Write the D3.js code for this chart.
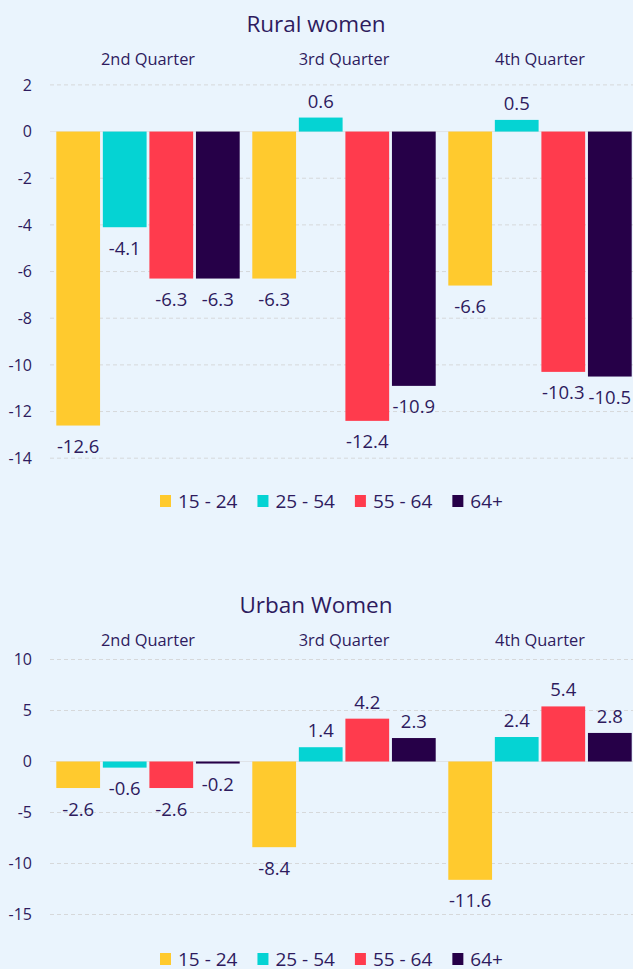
<!DOCTYPE html>
<html><head><meta charset="utf-8">
<script src="https://cdn.jsdelivr.net/npm/d3@7"></script>
<style>
html,body{margin:0;padding:0;background:#EAF4FD;}
svg{display:block;font-family:"Open Sans","Noto Sans",sans-serif;}
</style></head>
<body><svg id="c" width="633" height="969"></svg>
<script>
const quarters = ["2nd Quarter", "3rd Quarter", "4th Quarter"];
const ageGroups = ["15 - 24", "25 - 54", "55 - 64", "64+"];
const colors = ["#FFCA2E", "#05D3D3", "#FF3B4D", "#260048"];
// values per quarter, in ageGroups order
const ruralValues = [
  [-12.6, -4.1, -6.3, -6.3],
  [-6.3, 0.6, -12.4, -10.9],
  [-6.6, 0.5, -10.3, -10.5]
];
const urbanValues = [
  [-2.6, -0.6, -2.6, -0.2],
  [-8.4, 1.4, 4.2, 2.3],
  [-11.6, 2.4, 5.4, 2.8]
];
const ruralTicks = [2, 0, -2, -4, -6, -8, -10, -12, -14];
const urbanTicks = [10, 5, 0, -5, -10, -15];

const textColor = "#2E1B5E";
const svg = d3.select("#c");
const hy = s => s.replace(/\u2212/g, "-");

function drawChart(cfg) {
  const g = svg.append("g");
  const y = d3.scaleLinear().domain(cfg.domain).range(cfg.range);
  const x0 = d3.scaleBand().domain(quarters).range([50, 638]).paddingInner(0.05).paddingOuter(0.025);
  const x1 = d3.scaleBand().domain(ageGroups).range([0, x0.bandwidth()]).paddingInner(0.06).paddingOuter(0.03);
  const color = d3.scaleOrdinal().domain(ageGroups).range(colors);

  // title
  g.append("text").attr("x", 316).attr("y", cfg.titleY).attr("text-anchor", "middle")
    .attr("font-size", 22.5).attr("fill", textColor).text(cfg.title);
  // quarter labels
  g.selectAll(".q").data(quarters).join("text")
    .attr("x", d => x0(d) + x0.bandwidth() / 2).attr("y", cfg.quarterY)
    .attr("text-anchor", "middle").attr("font-size", 16.4).attr("fill", textColor).text(d => d);

  // grid
  const axis = d3.axisLeft(y).tickValues(cfg.ticks).tickSize(0).tickPadding(0)
    .tickFormat(d => hy(d3.format("d")(d)));
  const ag = g.append("g").attr("transform", "translate(32,0)").call(axis);
  ag.select(".domain").remove();
  ag.selectAll("text").attr("font-size", 16).attr("fill", textColor).attr("font-family", "\"Open Sans\",sans-serif");
  g.selectAll(".grid").data(cfg.ticks).join("line")
    .attr("x1", 50).attr("x2", 633).attr("y1", d => y(d)).attr("y2", d => y(d))
    .attr("stroke", d => d === 0 ? "#dfe3e8" : "#d6d8da")
    .attr("stroke-width", 1)
    .attr("stroke-dasharray", d => d === 0 ? null : "4,3");

  // bars
  const groups = g.selectAll(".grp").data(cfg.values).join("g")
    .attr("transform", (d, i) => `translate(${x0(quarters[i])},0)`);
  const items = d => d.map((v, j) => ({ key: ageGroups[j], v }));
  groups.selectAll("rect").data(items).join("rect")
    .attr("x", d => x1(d.key)).attr("width", x1.bandwidth())
    .attr("y", d => y(Math.max(0, d.v))).attr("height", d => Math.abs(y(d.v) - y(0)))
    .attr("fill", d => color(d.key));
  groups.selectAll("text").data(items).join("text")
    .attr("x", d => x1(d.key) + x1.bandwidth() / 2)
    .attr("y", d => d.v >= 0 ? y(d.v) - 10 : y(d.v) + 27.5)
    .attr("text-anchor", "middle").attr("font-size", 18.5).attr("fill", textColor)
    .text(d => hy(d3.format(".1f")(d.v)));

  // legend
  const lg = g.append("g").attr("transform", `translate(0,${cfg.legendY})`);
  let lx = 160;
  ageGroups.forEach((k, i) => {
    lg.append("rect").attr("x", lx).attr("y", -6).attr("width", 11).attr("height", 12).attr("fill", colors[i]);
    const t = lg.append("text").attr("x", lx + 18).attr("y", 7).attr("font-size", 19).attr("fill", textColor).text(k);
    lx += 18 + t.node().getComputedTextLength() + 20;
  });
}

drawChart({ title: "Rural women", titleY: 32, quarterY: 65, domain: [-14, 2], range: [458.2, 84.9],
  ticks: ruralTicks, values: ruralValues, legendY: 501 });
drawChart({ title: "Urban Women", titleY: 613, quarterY: 646, domain: [-15, 10], range: [914.5, 659.5],
  ticks: urbanTicks, values: urbanValues, legendY: 959 });
</script></body></html>
